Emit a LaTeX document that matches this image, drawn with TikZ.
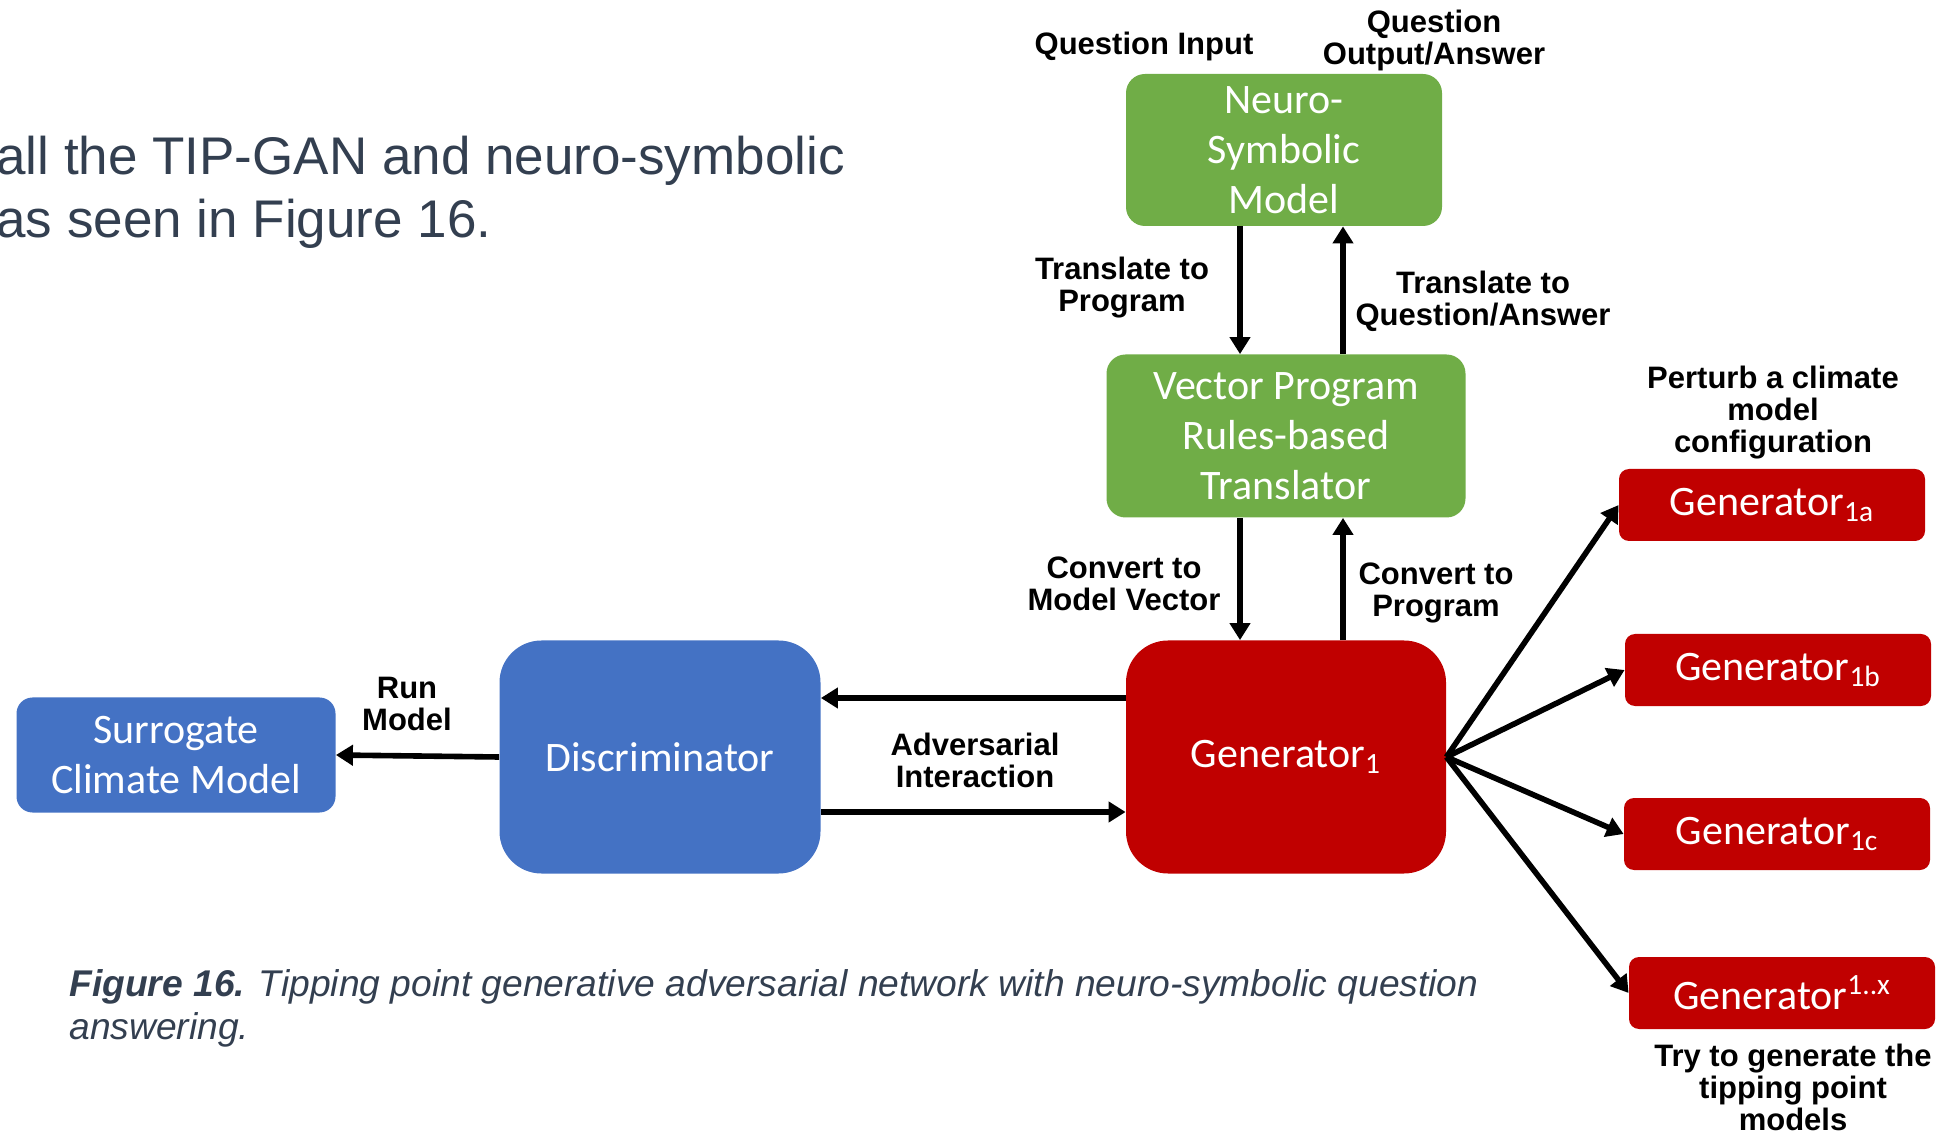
\documentclass[tikz,border=0pt]{standalone}
\usepackage{fontspec}
\setmainfont{Liberation Sans}
\newfontfamily\boxfont{Carlito}
\usetikzlibrary{arrows.meta, positioning}
\definecolor{nsgreen}{HTML}{70AD47}
\definecolor{ganblue}{HTML}{4472C4}
\definecolor{ganred}{HTML}{C00000}
\definecolor{slate}{HTML}{333F50}

\begin{document}
\begin{tikzpicture}[x=0.5pt,y=-0.5pt,
	boxbase/.style={draw=none, text=white, align=center, inner sep=0pt, font=\boxfont\fontsize{21}{25}\selectfont},
	greenbox/.style={boxbase, fill=nsgreen, rounded corners=9.5pt},
	bluebox/.style={boxbase, fill=ganblue},
	redbox/.style={boxbase, fill=ganred},
	smallgen/.style={redbox, rounded corners=5pt, minimum width=153pt, minimum height=36pt},
	lbl/.style={align=center, inner sep=0pt, font=\bfseries\fontsize{15.5}{16}\selectfont},
	arr/.style={line width=2.8pt, -{Triangle[length=8.5pt,width=10pt]}}]
	\useasboundingbox (0,0) rectangle (1944,1133);
	% text above the figure
	\node[anchor=base west, inner sep=0pt, text=slate, font=\fontsize{26.5}{32}\selectfont] (intro1) at (-4,175) {all the TIP-GAN and neuro-symbolic};
	\node[anchor=base west, inner sep=0pt, text=slate, font=\fontsize{26.5}{32}\selectfont] (intro2) at (-4,238) {as seen in Figure 16.};
	% boxes
	\node[greenbox, minimum width=158pt, minimum height=76pt] (neuro) at (1284,150) {Neuro-\\Symbolic\\Model};
	\node[greenbox, minimum width=179.5pt, minimum height=81.5pt] (vector) at (1286,436) {Vector Program\\Rules-based\\Translator};
	\node[redbox, rounded corners=21pt, minimum width=160pt, minimum height=116.5pt] (gen1) at (1286,757) {Generator\textsubscript{1}};
	\node[bluebox, rounded corners=21pt, minimum width=160.5pt, minimum height=116.5pt] (disc) at (660,757) {Discriminator};
	\node[bluebox, rounded corners=8pt, minimum width=159.5pt, minimum height=57.5pt] (surr) at (176,755) {Surrogate\\Climate Model};
	\node[smallgen] (gena) at (1772,505) {Generator\textsubscript{1a}};
	\node[smallgen] (genb) at (1778,670) {Generator\textsubscript{1b}};
	\node[smallgen] (genc) at (1777,834) {Generator\textsubscript{1c}};
	\node[smallgen] (genx) at (1782,993) {Generator\textsuperscript{1..x}};
	% labels
	\node[lbl] (qin) at (1144,46) {Question Input};
	\node[lbl] (qout) at (1434,40) {Question\\Output/Answer};
	\node[lbl] (tprog) at (1122,288) {Translate to\\Program};
	\node[lbl] (tqa) at (1483,301) {Translate to\\Question/Answer};
	\node[lbl] (perturb) at (1773,413) {Perturb a climate\\model\\configuration};
	\node[lbl] (cvec) at (1124,584) {Convert to\\Model Vector};
	\node[lbl] (cprog) at (1436,593) {Convert to\\Program};
	\node[lbl] (run) at (407,704) {Run\\Model};
	\node[lbl] (adv) at (975,760) {Adversarial\\Interaction};
	\node[lbl] (try) at (1793,1087) {Try to generate the\\tipping point\\models};
	% connectors
	\draw[arr] (neuro.south -| 1240,0) -- (vector.north -| 1240,0);
	\draw[arr] (vector.north -| 1343,0) -- (neuro.south -| 1343,0);
	\draw[arr] (vector.south -| 1240,0) -- (gen1.north -| 1240,0);
	\draw[arr] (gen1.north -| 1343,0) -- (vector.south -| 1343,0);
	\draw[arr] (gen1.west |- 0,698) -- (disc.east |- 0,698);
	\draw[arr] (disc.east |- 0,812) -- (gen1.west |- 0,812);
	\draw[arr] (disc.west) -- (surr.east);
	\foreach \g in {gena,genb,genc,genx}
		\draw[arr] (gen1.east) -- (\g.west);
	% caption
	\node[anchor=base west, inner sep=0pt, text=slate, font=\itshape\fontsize{18.6}{23}\selectfont] (cap1) at (69,996) {\textbf{Figure 16.} Tipping point generative adversarial network with neuro-symbolic question};
	\node[anchor=base west, inner sep=0pt, text=slate, font=\itshape\fontsize{18.6}{23}\selectfont] (cap2) at (69,1039) {answering.};
\end{tikzpicture}
\end{document}
